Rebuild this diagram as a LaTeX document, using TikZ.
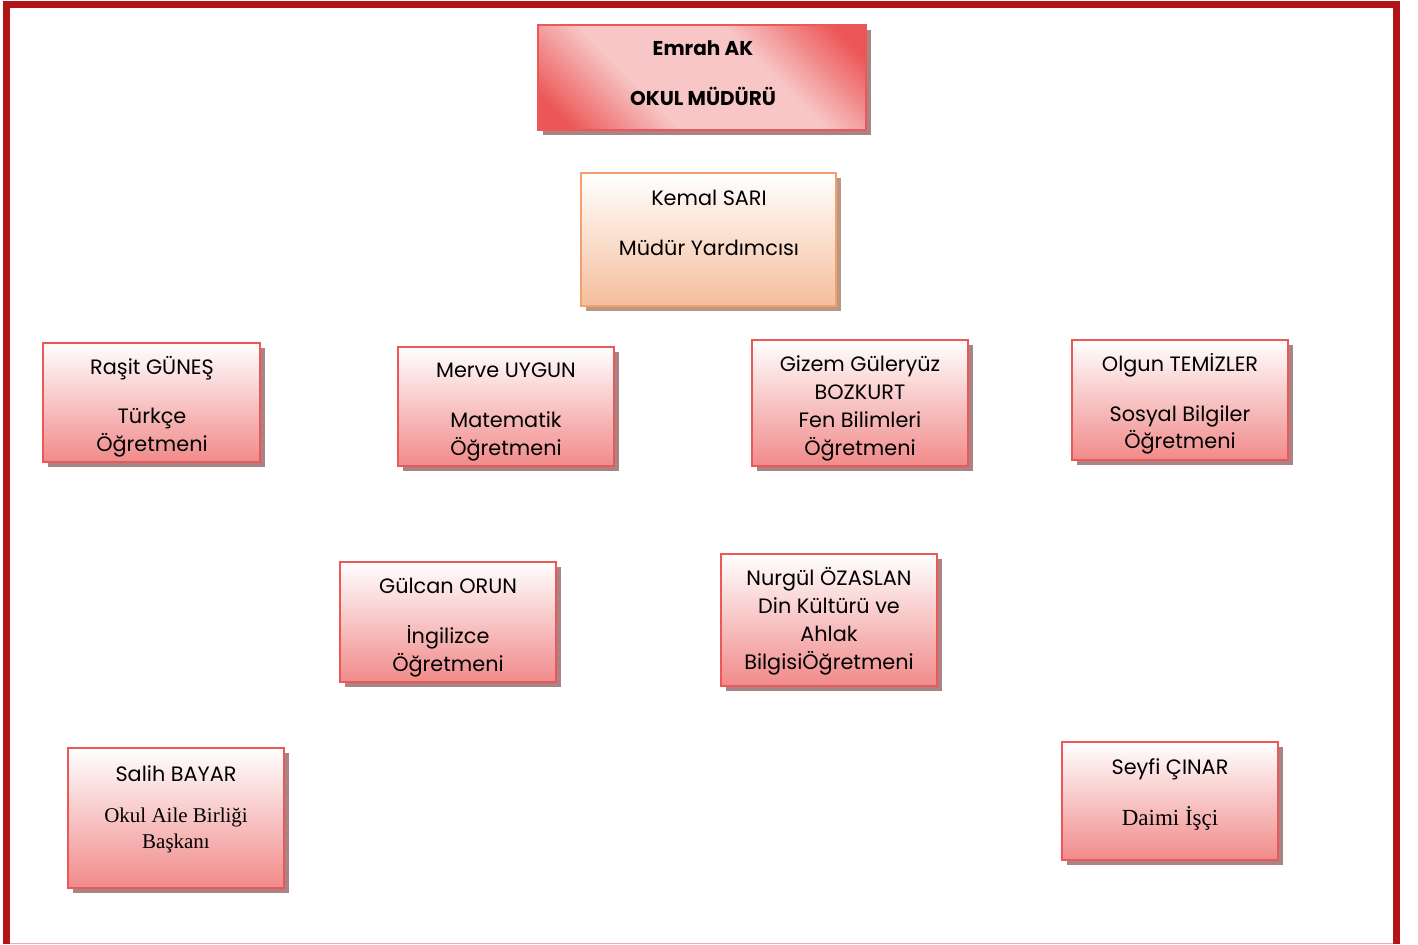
\documentclass[tikz,border=0pt]{standalone}
\usepackage{fontspec}
\setmainfont{Poppins}
\newfontfamily\seriff{Liberation Serif}
\usetikzlibrary{shadows}
\definecolor{frame}{RGB}{178,20,24}
\definecolor{pinkline}{RGB}{236,88,88}
\definecolor{pinkbot}{RGB}{241,138,138}
\definecolor{pinkmid}{RGB}{248,198,198}
\definecolor{redcorner}{RGB}{236,86,86}
\definecolor{orangeline}{RGB}{244,160,110}
\definecolor{orangebot}{RGB}{245,190,155}
\definecolor{shadowc}{RGB}{168,132,132}
\definecolor{shadowo}{RGB}{185,152,132}
\definecolor{thinpink}{RGB}{232,176,176}
\pgfdeclarehorizontalshading{emrahsh}{100bp}{color(0bp)=(redcorner); color(20bp)=(redcorner); color(38bp)=(pinkmid); color(62bp)=(pinkmid); color(80bp)=(redcorner); color(100bp)=(redcorner)}
\tikzset{
  pbox/.style={draw=pinkline, line width=1.2pt, top color=white, bottom color=pinkbot,
    general shadow={fill=shadowc, shadow xshift=2.5pt, shadow yshift=-2.5pt}, inner sep=0pt},
  obox/.style={draw=orangeline, line width=1.2pt, top color=white, bottom color=orangebot,
    general shadow={fill=shadowo, shadow xshift=2.5pt, shadow yshift=-2.5pt}, inner sep=0pt},
  hbox/.style={draw=pinkline, line width=1.2pt, shading=emrahsh, shading angle=45,
    general shadow={fill=shadowc, shadow xshift=2.5pt, shadow yshift=-2.5pt}, inner sep=0pt},
  ln/.style={anchor=base, inner sep=0pt, font=\fontsize{10.4pt}{12pt}\selectfont, text=black},
  lnb/.style={anchor=base, inner sep=0pt, font=\fontsize{10pt}{12pt}\selectfont\bfseries, text=black},
  lns/.style={anchor=base, inner sep=0pt, font=\fontsize{10.5pt}{12pt}\selectfont\seriff, text=black},
  lnsl/.style={anchor=base, inner sep=0pt, font=\fontsize{11.5pt}{12pt}\selectfont\seriff, text=black},
}
\begin{document}
\begin{tikzpicture}[x=0.5pt,y=-0.5pt]
\useasboundingbox (0,0) rectangle (1418,944);
% frame
\draw[thinpink, line width=0.5pt] (10,943) -- (1393,943);
\draw[frame, line width=3.5pt] (6.5,944) -- (6.5,4.5) -- (1396.5,4.5) -- (1396.5,944);
% boxes
\node[hbox, minimum width=164pt, minimum height=52.5pt] (bemrah) at (702,77.5) {};
\node[obox, minimum width=127.5pt, minimum height=66.5pt] (bkemal) at (708.5,239.5) {};
\node[pbox, minimum width=108.5pt, minimum height=59.5pt] (brasit) at (151.5,402.5) {};
\node[pbox, minimum width=108pt, minimum height=59.5pt] (bmerve) at (506,406.5) {};
\node[pbox, minimum width=108pt, minimum height=63pt] (bgizem) at (860,403) {};
\node[pbox, minimum width=108pt, minimum height=60pt] (bolgun) at (1180,400) {};
\node[pbox, minimum width=108pt, minimum height=60pt] (bgulcan) at (448,622) {};
\node[pbox, minimum width=108pt, minimum height=66pt] (bnurgul) at (829,620) {};
\node[pbox, minimum width=108pt, minimum height=70pt] (bsalih) at (176,818) {};
\node[pbox, minimum width=108pt, minimum height=59pt] (bseyfi) at (1170,801) {};
% texts
\node[lnb] (t1a) at (703,55) {Emrah AK};
\node[lnb] (t1b) at (703,105) {OKUL MÜDÜRÜ};
\node[ln] (t2a) at (709,205) {Kemal SARI};
\node[ln] (t2b) at (709,255) {Müdür Yardımcısı};
\node[ln] (t3a) at (152,374) {Raşit GÜNEŞ};
\node[ln] (t3b) at (152,423.5) {Türkçe};
\node[ln] (t3c) at (152,451) {Öğretmeni};
\node[ln] (t4a) at (506,377.5) {Merve UYGUN};
\node[ln] (t4b) at (506,427) {Matematik};
\node[ln] (t4c) at (506,455) {Öğretmeni};
\node[ln] (t5a) at (860,371.5) {Gizem Güleryüz};
\node[ln] (t5b) at (860,399.5) {BOZKURT};
\node[ln] (t5c) at (860,427.5) {Fen Bilimleri};
\node[ln] (t5d) at (860,455) {Öğretmeni};
\node[ln] (t6a) at (1180,371.5) {Olgun TEMİZLER};
\node[ln] (t6b) at (1180,421) {Sosyal Bilgiler};
\node[ln] (t6c) at (1180,448) {Öğretmeni};
\node[ln] (t7a) at (448,593.5) {Gülcan ORUN};
\node[ln] (t7b) at (448,643) {İngilizce};
\node[ln] (t7c) at (448,671) {Öğretmeni};
\node[ln] (t8a) at (829,585.5) {Nurgül ÖZASLAN};
\node[ln] (t8b) at (829,613.5) {Din Kültürü ve};
\node[ln] (t8c) at (829,641.5) {Ahlak};
\node[ln] (t8d) at (829,669.5) {BilgisiÖğretmeni};
\node[ln] (t9a) at (176,781) {Salih BAYAR};
\node[lns] (t9b) at (176,822.5) {Okul Aile Birliği};
\node[lns] (t9c) at (176,848) {Başkanı};
\node[ln] (t10a) at (1170,774) {Seyfi ÇINAR};
\node[lnsl] (t10b) at (1170,825) {Daimi İşçi};
\end{tikzpicture}
\end{document}
